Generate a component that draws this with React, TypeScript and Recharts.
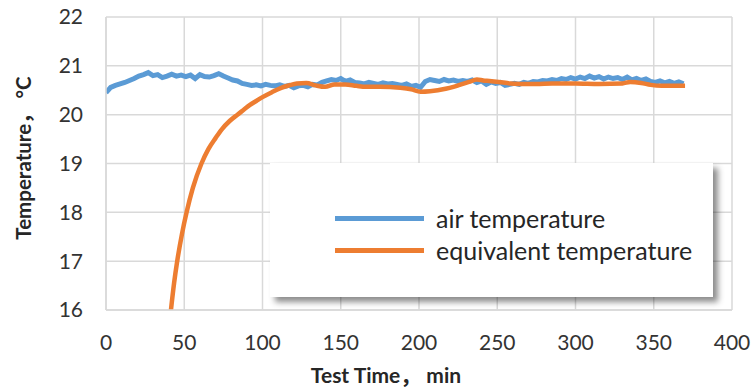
import React from 'react';
import { LineChart, Line, XAxis, YAxis, CartesianGrid, Legend } from 'recharts';

const xTicks = [0, 50, 100, 150, 200, 250, 300, 350, 400];
const yTicks = [16, 17, 18, 19, 20, 21, 22];

const airTimes = [
  0, 3, 6, 9, 12, 15, 18, 21, 24, 27, 30, 33, 36, 39, 42, 45, 48, 51, 54, 57,
  60, 63, 66, 69, 72, 75, 78, 81, 84, 87, 90, 93, 96, 99, 102, 105, 108, 111, 114, 117,
  120, 123, 126, 129, 132, 135, 138, 141, 144, 147, 150, 153, 156, 159, 162, 165, 168, 171, 174, 177,
  180, 183, 186, 189, 192, 195, 198, 201, 204, 207, 210, 213, 216, 219, 222, 225, 228, 231, 234, 237,
  240, 243, 246, 249, 252, 255, 258, 261, 264, 267, 270, 273, 276, 279, 282, 285, 288, 291, 294, 297,
  300, 303, 306, 309, 312, 315, 318, 321, 324, 327, 330, 333, 336, 339, 342, 345, 348, 351, 354, 357,
  360, 363, 366, 369,
];
const airValues = [
  20.45, 20.56, 20.6, 20.63, 20.66, 20.7, 20.74, 20.79, 20.82, 20.86, 20.8, 20.82, 20.76, 20.79, 20.83, 20.79, 20.81, 20.78, 20.81, 20.74,
  20.82, 20.78, 20.77, 20.8, 20.84, 20.79, 20.75, 20.71, 20.69, 20.64, 20.62, 20.6, 20.61, 20.59, 20.62, 20.6, 20.59, 20.61, 20.58, 20.6,
  20.55, 20.59, 20.6, 20.57, 20.62, 20.61, 20.66, 20.69, 20.72, 20.7, 20.74, 20.68, 20.71, 20.66, 20.65, 20.63, 20.66, 20.64, 20.62, 20.65,
  20.63, 20.64, 20.62, 20.6, 20.63, 20.58, 20.6, 20.56, 20.68, 20.72, 20.7, 20.68, 20.72, 20.69, 20.71, 20.68, 20.7, 20.68, 20.71, 20.66,
  20.69, 20.62, 20.67, 20.64, 20.66, 20.6, 20.62, 20.64, 20.62, 20.66, 20.64, 20.68, 20.67, 20.7, 20.69, 20.72, 20.7, 20.74, 20.72, 20.76,
  20.73, 20.77, 20.74, 20.79, 20.75, 20.78, 20.73, 20.77, 20.74, 20.76, 20.72, 20.77, 20.71, 20.74, 20.7, 20.73, 20.68, 20.66, 20.69, 20.65,
  20.68, 20.64, 20.67, 20.63,
];

const eqTimes = [
  41.5, 43.5, 45.5, 48.5, 51.5, 55.5, 61, 65.5, 70, 74, 79, 84, 88, 92, 96, 100, 106, 112, 117, 122,
  128, 134, 140, 146, 153, 160, 166, 175, 188, 195, 201, 207, 212, 217, 222, 226, 232, 237, 241, 245,
  251, 258, 265, 275, 285, 300, 315, 330, 335, 342, 348, 355, 362, 370,
];
const eqValues = [
  16.0, 16.55, 17.0, 17.55, 18.0, 18.5, 19.0, 19.3, 19.52, 19.7, 19.87, 20.0, 20.1, 20.2, 20.28, 20.36, 20.46, 20.55, 20.6, 20.64,
  20.65, 20.6, 20.57, 20.62, 20.62, 20.59, 20.57, 20.57, 20.55, 20.52, 20.47, 20.48, 20.5, 20.53, 20.57, 20.61, 20.67, 20.72, 20.7, 20.69,
  20.67, 20.64, 20.63, 20.63, 20.64, 20.64, 20.63, 20.64, 20.67, 20.65, 20.61, 20.59, 20.59, 20.59,
];

const airData = airTimes.map((t, i) => ({ t, v: airValues[i] }));
const eqData = eqTimes.map((t, i) => ({ t, v: eqValues[i] }));

const FONT = "Lato, 'Noto Sans CJK SC', sans-serif";
const GRID = '#d9d9d9';
const BLUE = '#5b9bd5';
const ORANGE = '#ed7d31';

const LegendBox = (props: any) => {
  const payload = props.payload || [];
  return (
    <div
      style={{
        width: 443,
        height: 134,
        background: '#fff',
        boxShadow: '5px 5px 6px rgba(0,0,0,0.45)',
        position: 'relative',
        fontFamily: FONT,
      }}
    >
      {payload.map((p: any, i: number) => (
        <div
          key={i}
          style={{
            position: 'absolute',
            left: 65,
            top: 40 + i * 32,
            height: 30,
            display: 'flex',
            alignItems: 'center',
          }}
        >
          <div style={{ width: 89, height: 5, background: p.color, marginRight: 12 }} />
          <span style={{ fontSize: 25, color: '#262626', whiteSpace: 'nowrap' }}>{p.value}</span>
        </div>
      ))}
    </div>
  );
};

export default function App() {
  return (
    <div style={{ position: 'absolute', left: 0, top: 0, background: '#fff' }}>
      <LineChart width={755} height={390} margin={{ top: 17, right: 23, left: 0, bottom: 0 }}>
        <CartesianGrid stroke={GRID} strokeWidth={1.5} />
        <XAxis
          type="number"
          dataKey="t"
          domain={[0, 400]}
          ticks={xTicks}
          height={80}
          axisLine={{ stroke: GRID, strokeWidth: 1.5 }}
          tickLine={false}
          tickSize={0}
          tickMargin={25}
          tick={{ fill: '#333', fontSize: 21, fontFamily: FONT }}
          allowDataOverflow
          label={{
            content: () => (
              <text
                x={386}
                y={383}
                textAnchor="middle"
                fontFamily={FONT}
                fontSize={21}
                fontWeight="bold"
                fill="#262626"
              >
                Test Time，  min
              </text>
            ),
          }}
        />
        <YAxis
          type="number"
          domain={[16, 22]}
          ticks={yTicks}
          width={106}
          axisLine={{ stroke: GRID, strokeWidth: 1.5 }}
          tickLine={false}
          tickSize={0}
          tickMargin={23}
          tick={{ fill: '#333', fontSize: 21, fontFamily: FONT }}
          allowDataOverflow
          label={{
            content: () => (
              <text
                x={31}
                y={158}
                transform="rotate(-90 31 158)"
                textAnchor="middle"
                fontFamily={FONT}
                fontSize={20.5}
                fontWeight="bold"
                fill="#262626"
              >
                Temperature， °C
              </text>
            ),
          }}
        />
        <Legend
          layout="vertical"
          align="center"
          verticalAlign="middle"
          width={443}
          height={134}
          wrapperStyle={{ left: 270, top: 163, width: 443, height: 134 }}
          content={<LegendBox />}
        />
        <Line
          data={airData}
          dataKey="v"
          name="air temperature"
          type="linear"
          stroke={BLUE}
          strokeWidth={5}
          dot={false}
          activeDot={false}
          isAnimationActive={false}
        />
        <Line
          data={eqData}
          dataKey="v"
          name="equivalent temperature"
          type="monotone"
          stroke={ORANGE}
          strokeWidth={4.5}
          dot={false}
          activeDot={false}
          isAnimationActive={false}
        />
      </LineChart>
    </div>
  );
}
